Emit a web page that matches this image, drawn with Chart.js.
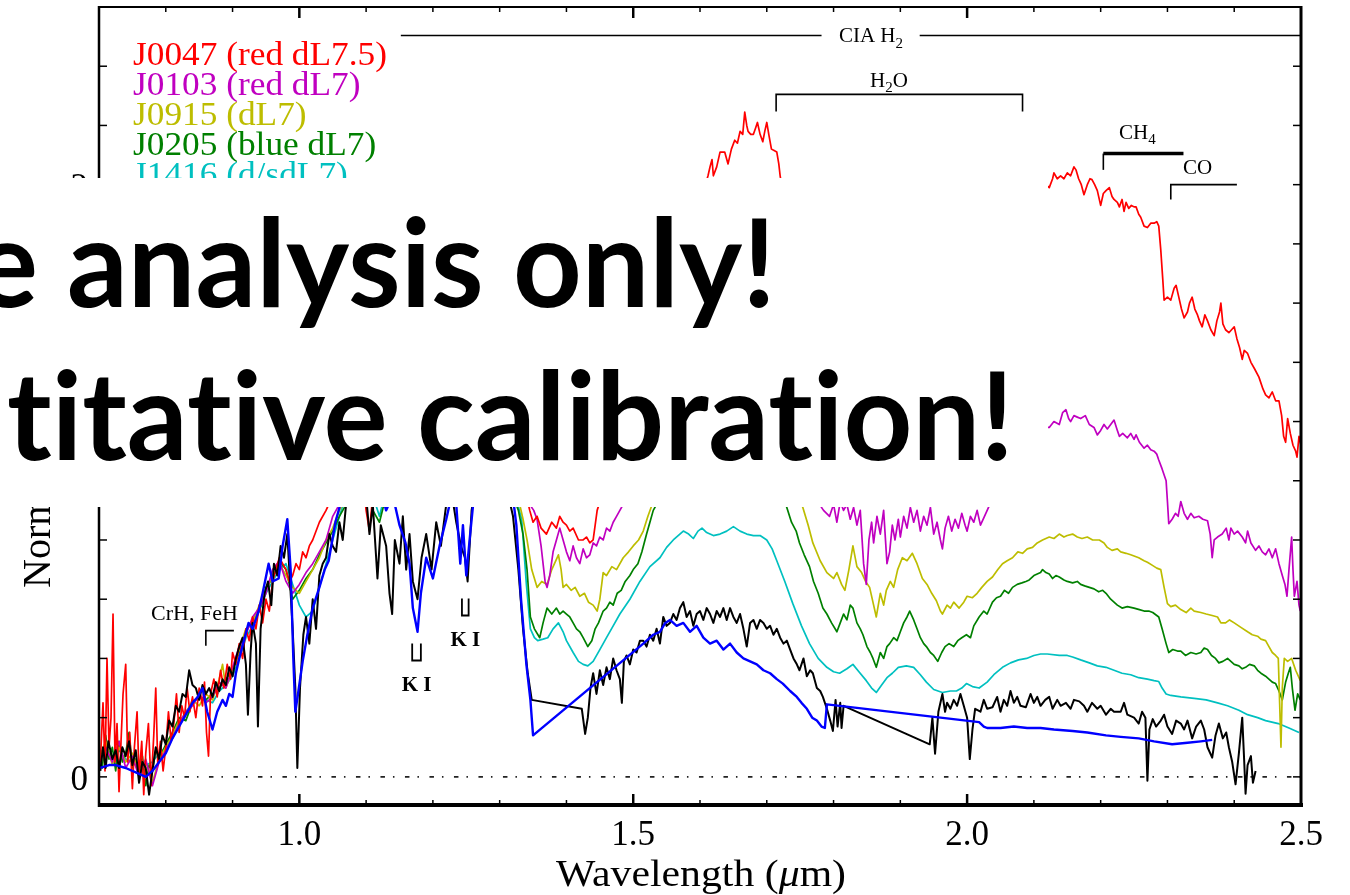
<!DOCTYPE html>
<html><head><meta charset="utf-8">
<script src="https://cdn.jsdelivr.net/npm/chart.js@4.4.1/dist/chart.umd.min.js"></script>
<style>html,body{margin:0;padding:0;background:#fff;}canvas{display:block;}</style>
</head><body>
<canvas id="c" width="1350" height="895"></canvas>
<script>
// ---------- DATA ----------
const legendLabels = ['J0047 (red dL7.5)','J0103 (red dL7)','J0915 (dL7)','J0205 (blue dL7)','J1416 (d/sdL7)'];
const xTickValues = [1.0, 1.5, 2.0, 2.5];
const xTickLabels = ['1.0', '1.5', '2.0', '2.5'];
const yTickValues = [0, 1, 2];
const yTickLabels = ['0', '1', '2'];
const zeroLine = [[0.81, 0], [2.5, 0]];

const j0047 = [[0.702,0.05],[0.706,0.25],[0.709,0.02],[0.712,0.40],[0.715,0.10],[0.718,0.20],[0.721,0.55],[0.724,0.05],[0.727,0.18],[0.73,-0.05],[0.733,0.12],[0.736,0.28],[0.74,0.38],[0.743,0.05],[0.746,0.15],[0.75,-0.04],[0.753,0.10],[0.757,0.22],[0.76,0.0],[0.764,0.12],[0.767,-0.06],[0.77,0.08],[0.774,0.18],[0.778,-0.03],[0.782,0.14],[0.785,0.30],[0.788,0.04],[0.792,0.12],[0.796,0.02],[0.80,0.10],[0.804,0.22],[0.808,0.12],[0.812,0.18],[0.816,0.28],[0.82,0.15],[0.824,0.24],[0.828,0.20],[0.832,0.30],[0.836,0.22],[0.84,0.27],[0.845,0.20],[0.85,0.30],[0.855,0.24],[0.858,0.32],[0.861,0.15],[0.864,0.07],[0.867,0.28],[0.872,0.33],[0.877,0.27],[0.882,0.36],[0.887,0.30],[0.892,0.38],[0.897,0.33],[0.90,0.42],[0.905,0.38],[0.91,0.45],[0.915,0.40],[0.92,0.50],[0.925,0.46],[0.93,0.54],[0.935,0.50],[0.94,0.58],[0.945,0.52],[0.95,0.60],[0.955,0.56],[0.96,0.66],[0.965,0.70],[0.97,0.74],[0.975,0.72],[0.98,0.70],[0.985,0.66],[0.99,0.68],[0.995,0.72],[1.0,0.70],[1.005,0.76],[1.01,0.74],[1.015,0.78],[1.02,0.80],[1.03,0.86],[1.04,0.90],[1.05,0.95],[1.07,1.05],[1.09,1.12],[1.10,0.90],[1.105,0.83],[1.11,0.95],[1.12,1.1],[1.15,1.15],[1.18,1.1],[1.21,1.18],[1.24,1.2],[1.27,1.22],[1.30,1.25],[1.32,1.15],[1.335,1.0],[1.345,0.90],[1.35,0.86],[1.356,0.88],[1.362,0.84],[1.37,0.82],[1.378,0.86],[1.385,0.84],[1.39,0.88],[1.395,0.86],[1.40,0.85],[1.405,0.83],[1.41,0.84],[1.418,0.80],[1.425,0.80],[1.43,0.81],[1.435,0.79],[1.44,0.80],[1.443,0.85],[1.446,0.90],[1.46,1.0],[1.50,1.3],[1.55,1.6],[1.58,1.8],[1.60,1.95],[1.608,2.0],[1.612,2.03],[1.615,2.06],[1.618,2.085],[1.62,2.03],[1.625,2.06],[1.63,2.11],[1.637,2.11],[1.642,2.07],[1.647,2.12],[1.652,2.15],[1.656,2.14],[1.66,2.18],[1.664,2.17],[1.667,2.245],[1.67,2.2],[1.672,2.18],[1.676,2.17],[1.68,2.17],[1.683,2.19],[1.686,2.21],[1.69,2.17],[1.694,2.145],[1.697,2.18],[1.70,2.21],[1.703,2.17],[1.707,2.12],[1.711,2.115],[1.715,2.11],[1.718,2.07],[1.72,2.03],[1.73,1.9],[1.76,1.6],[1.79,1.35],[1.82,1.2],[1.86,1.1],[1.90,1.15],[1.95,1.2],[2.0,1.45],[2.05,1.75],[2.09,1.92],[2.11,1.97],[2.118,2.0],[2.123,1.99],[2.128,2.02],[2.13,2.04],[2.135,2.02],[2.14,2.03],[2.145,2.02],[2.15,2.04],[2.155,2.03],[2.16,2.06],[2.163,2.05],[2.167,2.02],[2.171,2.0],[2.175,1.966],[2.18,2.0],[2.184,2.02],[2.187,2.017],[2.191,2.0],[2.195,1.98],[2.2,1.93],[2.204,1.97],[2.208,1.98],[2.213,1.99],[2.217,1.96],[2.22,1.95],[2.225,1.94],[2.228,1.925],[2.232,1.95],[2.235,1.91],[2.238,1.94],[2.242,1.92],[2.246,1.93],[2.25,1.925],[2.253,1.925],[2.257,1.90],[2.26,1.89],[2.265,1.86],[2.27,1.855],[2.275,1.87],[2.28,1.87],[2.284,1.875],[2.287,1.86],[2.29,1.78],[2.293,1.68],[2.295,1.61],[2.3,1.62],[2.305,1.61],[2.31,1.65],[2.313,1.66],[2.317,1.62],[2.321,1.58],[2.325,1.55],[2.33,1.57],[2.333,1.60],[2.337,1.62],[2.341,1.58],[2.345,1.56],[2.348,1.54],[2.352,1.52],[2.356,1.56],[2.36,1.54],[2.365,1.51],[2.37,1.49],[2.374,1.54],[2.378,1.57],[2.38,1.60],[2.383,1.53],[2.387,1.51],[2.392,1.50],[2.396,1.51],[2.40,1.52],[2.404,1.48],[2.408,1.45],[2.412,1.41],[2.415,1.44],[2.42,1.43],[2.425,1.40],[2.43,1.38],[2.437,1.35],[2.443,1.31],[2.447,1.29],[2.452,1.28],[2.457,1.30],[2.462,1.27],[2.467,1.27],[2.471,1.22],[2.474,1.15],[2.477,1.13],[2.48,1.21],[2.484,1.16],[2.488,1.12],[2.492,1.10],[2.494,1.08],[2.497,1.15],[2.5,1.12]];

const j0103 = [[0.70,0.04],[0.71,0.10],[0.72,0.05],[0.73,0.12],[0.74,0.03],[0.75,0.07],[0.76,0.0],[0.77,0.06],[0.78,-0.03],[0.79,0.05],[0.80,0.09],[0.81,0.13],[0.82,0.18],[0.83,0.22],[0.84,0.24],[0.85,0.28],[0.86,0.25],[0.87,0.27],[0.88,0.32],[0.89,0.30],[0.90,0.37],[0.91,0.44],[0.92,0.48],[0.93,0.54],[0.94,0.57],[0.95,0.62],[0.96,0.70],[0.97,0.73],[0.98,0.66],[0.99,0.62],[1.00,0.65],[1.01,0.69],[1.02,0.72],[1.03,0.76],[1.04,0.80],[1.045,0.84],[1.05,0.88],[1.06,0.92],[1.08,1.0],[1.10,1.04],[1.12,0.97],[1.15,1.02],[1.18,0.98],[1.21,1.04],[1.24,1.06],[1.27,1.03],[1.30,1.07],[1.32,1.02],[1.335,0.96],[1.345,0.92],[1.351,0.90],[1.356,0.87],[1.362,0.78],[1.368,0.66],[1.371,0.64],[1.375,0.68],[1.38,0.76],[1.385,0.80],[1.39,0.84],[1.395,0.80],[1.40,0.76],[1.405,0.73],[1.41,0.78],[1.415,0.74],[1.42,0.72],[1.425,0.77],[1.43,0.74],[1.435,0.75],[1.44,0.79],[1.445,0.78],[1.45,0.81],[1.455,0.80],[1.46,0.84],[1.465,0.83],[1.47,0.86],[1.475,0.88],[1.48,0.90],[1.50,0.98],[1.53,1.1],[1.56,1.2],[1.60,1.28],[1.64,1.32],[1.68,1.33],[1.71,1.30],[1.73,1.2],[1.75,1.05],[1.77,0.95],[1.785,0.90],[1.794,0.88],[1.80,0.92],[1.805,0.86],[1.81,0.93],[1.815,0.90],[1.82,0.92],[1.825,0.87],[1.83,0.91],[1.835,0.85],[1.84,0.90],[1.845,0.72],[1.849,0.65],[1.853,0.80],[1.857,0.86],[1.86,0.79],[1.865,0.88],[1.87,0.82],[1.875,0.90],[1.88,0.72],[1.884,0.76],[1.888,0.85],[1.892,0.80],[1.897,0.87],[1.90,0.81],[1.905,0.88],[1.91,0.84],[1.915,0.91],[1.92,0.86],[1.925,0.90],[1.93,0.83],[1.935,0.88],[1.94,0.85],[1.945,0.91],[1.95,0.82],[1.955,0.86],[1.96,0.80],[1.963,0.77],[1.967,0.84],[1.972,0.88],[1.977,0.83],[1.982,0.87],[1.987,0.84],[1.992,0.89],[1.997,0.85],[2.0,0.83],[2.005,0.88],[2.01,0.86],[2.015,0.90],[2.02,0.85],[2.026,0.88],[2.04,0.95],[2.06,1.05],[2.08,1.12],[2.10,1.16],[2.115,1.18],[2.123,1.18],[2.13,1.20],[2.138,1.19],[2.143,1.23],[2.148,1.24],[2.152,1.21],[2.155,1.20],[2.16,1.22],[2.165,1.215],[2.17,1.21],[2.177,1.22],[2.183,1.19],[2.19,1.18],[2.195,1.155],[2.2,1.17],[2.205,1.19],[2.21,1.175],[2.215,1.19],[2.22,1.205],[2.225,1.17],[2.228,1.15],[2.233,1.16],[2.24,1.145],[2.245,1.16],[2.25,1.14],[2.253,1.155],[2.258,1.13],[2.265,1.11],[2.27,1.12],[2.275,1.105],[2.28,1.10],[2.284,1.09],[2.287,1.07],[2.292,1.04],[2.298,1.0],[2.3,0.93],[2.302,0.855],[2.307,0.87],[2.312,0.89],[2.316,0.88],[2.32,0.93],[2.325,0.89],[2.33,0.87],[2.335,0.89],[2.34,0.875],[2.347,0.88],[2.353,0.87],[2.36,0.865],[2.364,0.82],[2.367,0.74],[2.37,0.80],[2.375,0.81],[2.382,0.82],[2.388,0.84],[2.392,0.80],[2.395,0.84],[2.40,0.82],[2.405,0.83],[2.412,0.81],[2.417,0.79],[2.42,0.83],[2.425,0.79],[2.432,0.765],[2.437,0.78],[2.442,0.76],[2.447,0.75],[2.452,0.77],[2.457,0.74],[2.462,0.77],[2.467,0.72],[2.472,0.68],[2.476,0.65],[2.479,0.61],[2.482,0.70],[2.486,0.81],[2.488,0.70],[2.49,0.61],[2.494,0.66],[2.497,0.58],[2.499,0.56]];

const j0915 = [[0.70,0.06],[0.71,0.12],[0.72,0.04],[0.73,0.10],[0.74,0.05],[0.75,0.08],[0.76,0.02],[0.77,0.05],[0.78,-0.02],[0.79,0.06],[0.80,0.10],[0.81,0.14],[0.82,0.19],[0.83,0.21],[0.84,0.26],[0.85,0.24],[0.86,0.28],[0.87,0.26],[0.88,0.33],[0.885,0.38],[0.89,0.30],[0.90,0.36],[0.91,0.43],[0.92,0.50],[0.93,0.52],[0.94,0.58],[0.95,0.63],[0.96,0.68],[0.97,0.72],[0.98,0.68],[0.99,0.64],[1.00,0.62],[1.01,0.66],[1.02,0.70],[1.03,0.74],[1.04,0.80],[1.05,0.84],[1.06,0.90],[1.08,0.98],[1.10,1.02],[1.12,0.95],[1.14,1.0],[1.17,0.96],[1.20,1.02],[1.23,1.05],[1.26,1.03],[1.29,1.06],[1.31,1.02],[1.32,0.98],[1.327,0.95],[1.335,0.87],[1.341,0.80],[1.348,0.70],[1.356,0.64],[1.363,0.66],[1.371,0.65],[1.378,0.70],[1.388,0.75],[1.392,0.70],[1.395,0.64],[1.40,0.65],[1.407,0.63],[1.413,0.64],[1.42,0.61],[1.427,0.62],[1.433,0.59],[1.44,0.58],[1.446,0.56],[1.45,0.60],[1.455,0.69],[1.46,0.68],[1.468,0.71],[1.475,0.70],[1.485,0.74],[1.493,0.76],[1.50,0.78],[1.508,0.80],[1.515,0.83],[1.522,0.88],[1.53,0.93],[1.55,1.0],[1.60,1.08],[1.65,1.12],[1.70,1.10],[1.73,1.02],[1.754,0.91],[1.762,0.85],[1.769,0.79],[1.78,0.73],[1.79,0.69],[1.80,0.67],[1.805,0.69],[1.812,0.65],[1.817,0.63],[1.823,0.70],[1.829,0.78],[1.835,0.71],[1.842,0.69],[1.848,0.66],[1.854,0.64],[1.86,0.58],[1.864,0.54],[1.87,0.62],[1.875,0.58],[1.879,0.63],[1.885,0.66],[1.89,0.64],[1.896,0.70],[1.903,0.74],[1.91,0.73],[1.918,0.755],[1.925,0.72],[1.933,0.67],[1.94,0.65],[1.947,0.62],[1.954,0.595],[1.96,0.56],[1.963,0.55],[1.97,0.58],[1.975,0.57],[1.98,0.59],[1.988,0.57],[1.995,0.59],[2.0,0.61],[2.008,0.605],[2.015,0.62],[2.022,0.64],[2.03,0.66],[2.038,0.675],[2.046,0.70],[2.053,0.72],[2.06,0.73],[2.068,0.74],[2.076,0.76],[2.083,0.755],[2.09,0.77],[2.098,0.775],[2.105,0.79],[2.113,0.80],[2.123,0.81],[2.13,0.805],[2.138,0.82],[2.145,0.81],[2.15,0.815],[2.158,0.82],[2.165,0.81],[2.172,0.805],[2.18,0.81],[2.188,0.80],[2.198,0.80],[2.205,0.79],[2.21,0.775],[2.217,0.765],[2.225,0.77],[2.23,0.76],[2.238,0.755],[2.245,0.75],[2.257,0.74],[2.265,0.73],[2.27,0.725],[2.277,0.715],[2.284,0.705],[2.29,0.70],[2.295,0.64],[2.30,0.585],[2.305,0.575],[2.312,0.58],[2.32,0.565],[2.328,0.555],[2.335,0.57],[2.34,0.56],[2.35,0.555],[2.358,0.55],[2.367,0.545],[2.375,0.54],[2.38,0.52],[2.387,0.52],[2.393,0.53],[2.40,0.52],[2.41,0.505],[2.42,0.49],[2.427,0.48],[2.435,0.475],[2.44,0.465],[2.447,0.46],[2.452,0.44],[2.457,0.42],[2.462,0.41],[2.466,0.40],[2.468,0.25],[2.47,0.10],[2.472,0.30],[2.475,0.40],[2.48,0.39],[2.486,0.40],[2.492,0.36],[2.499,0.325]];

const j0205 = [[0.70,0.09],[0.705,0.03],[0.71,0.14],[0.715,0.06],[0.72,0.10],[0.725,0.02],[0.73,0.12],[0.735,0.05],[0.74,0.08],[0.745,0.15],[0.75,0.03],[0.755,0.06],[0.76,0.0],[0.765,0.07],[0.77,-0.03],[0.775,0.04],[0.78,0.02],[0.785,0.09],[0.79,0.06],[0.80,0.11],[0.81,0.15],[0.82,0.20],[0.83,0.19],[0.84,0.25],[0.85,0.27],[0.86,0.26],[0.87,0.28],[0.88,0.30],[0.89,0.33],[0.90,0.36],[0.91,0.42],[0.92,0.49],[0.93,0.53],[0.94,0.56],[0.95,0.64],[0.96,0.67],[0.97,0.73],[0.98,0.70],[0.99,0.60],[1.00,0.63],[1.01,0.67],[1.02,0.70],[1.03,0.75],[1.04,0.79],[1.05,0.83],[1.06,0.88],[1.08,0.96],[1.10,1.0],[1.11,0.90],[1.12,0.86],[1.13,0.95],[1.15,1.0],[1.17,0.93],[1.20,1.0],[1.23,1.04],[1.26,1.02],[1.29,1.05],[1.31,1.0],[1.32,0.95],[1.328,0.90],[1.335,0.82],[1.341,0.70],[1.346,0.54],[1.352,0.50],[1.36,0.47],[1.365,0.52],[1.371,0.57],[1.378,0.55],[1.385,0.57],[1.39,0.55],[1.395,0.56],[1.40,0.55],[1.405,0.54],[1.41,0.52],[1.415,0.50],[1.42,0.49],[1.425,0.47],[1.432,0.44],[1.438,0.46],[1.443,0.50],[1.448,0.52],[1.455,0.56],[1.46,0.57],[1.465,0.59],[1.47,0.58],[1.476,0.62],[1.482,0.63],[1.488,0.66],[1.495,0.68],[1.50,0.70],[1.507,0.72],[1.513,0.76],[1.52,0.82],[1.525,0.86],[1.53,0.9],[1.55,0.98],[1.60,1.05],[1.65,1.08],[1.70,1.05],[1.72,0.96],[1.73,0.91],[1.737,0.86],[1.744,0.83],[1.749,0.79],[1.756,0.75],[1.764,0.71],[1.77,0.66],[1.777,0.62],[1.784,0.57],[1.79,0.55],[1.797,0.52],[1.805,0.49],[1.81,0.52],[1.815,0.55],[1.82,0.53],[1.825,0.58],[1.829,0.57],[1.835,0.52],[1.84,0.50],[1.844,0.48],[1.85,0.44],[1.855,0.42],[1.859,0.40],[1.864,0.37],[1.87,0.42],[1.875,0.40],[1.88,0.44],[1.884,0.45],[1.89,0.47],[1.895,0.46],[1.90,0.49],[1.905,0.52],[1.91,0.54],[1.914,0.56],[1.92,0.53],[1.925,0.50],[1.93,0.47],[1.935,0.45],[1.939,0.44],[1.945,0.42],[1.95,0.41],[1.956,0.39],[1.962,0.42],[1.967,0.44],[1.973,0.45],[1.98,0.44],[1.986,0.46],[1.992,0.47],[1.999,0.48],[2.005,0.47],[2.01,0.51],[2.018,0.54],[2.025,0.56],[2.03,0.55],[2.038,0.59],[2.044,0.605],[2.05,0.61],[2.056,0.63],[2.062,0.62],[2.068,0.64],[2.075,0.65],[2.082,0.655],[2.088,0.66],[2.093,0.665],[2.10,0.68],[2.105,0.685],[2.11,0.69],[2.113,0.70],[2.118,0.69],[2.123,0.685],[2.128,0.67],[2.133,0.68],[2.138,0.675],[2.145,0.665],[2.15,0.66],[2.158,0.655],[2.165,0.66],[2.17,0.65],[2.176,0.645],[2.183,0.64],[2.19,0.635],[2.197,0.625],[2.203,0.63],[2.208,0.62],[2.215,0.60],[2.22,0.59],[2.225,0.58],[2.232,0.57],[2.24,0.575],[2.25,0.57],[2.258,0.565],[2.265,0.56],[2.272,0.56],[2.278,0.555],[2.284,0.545],[2.287,0.54],[2.292,0.50],[2.298,0.45],[2.302,0.42],[2.308,0.43],[2.315,0.425],[2.32,0.425],[2.327,0.41],[2.335,0.42],[2.343,0.415],[2.35,0.42],[2.355,0.435],[2.36,0.43],[2.366,0.41],[2.372,0.40],[2.377,0.385],[2.383,0.39],[2.39,0.40],[2.395,0.39],[2.40,0.38],[2.407,0.375],[2.412,0.365],[2.417,0.37],[2.423,0.38],[2.43,0.375],[2.435,0.36],[2.44,0.35],[2.447,0.34],[2.452,0.33],[2.457,0.32],[2.462,0.315],[2.467,0.29],[2.472,0.26],[2.477,0.32],[2.481,0.35],[2.484,0.37],[2.487,0.30],[2.491,0.225],[2.495,0.28],[2.499,0.26]];

const j1416 = [[0.70,0.08],[0.71,0.10],[0.72,0.07],[0.73,0.09],[0.74,0.06],[0.75,0.05],[0.76,0.03],[0.77,0.04],[0.78,0.05],[0.79,0.08],[0.80,0.10],[0.81,0.14],[0.82,0.18],[0.83,0.22],[0.84,0.25],[0.85,0.27],[0.86,0.26],[0.87,0.25],[0.88,0.29],[0.89,0.31],[0.90,0.34],[0.91,0.40],[0.92,0.47],[0.93,0.51],[0.94,0.56],[0.95,0.62],[0.96,0.66],[0.97,0.70],[0.98,0.72],[0.99,0.65],[1.00,0.58],[1.01,0.54],[1.02,0.56],[1.03,0.64],[1.04,0.72],[1.05,0.80],[1.06,0.88],[1.07,0.95],[1.09,1.02],[1.11,0.95],[1.12,0.88],[1.13,0.97],[1.15,1.0],[1.17,0.95],[1.19,1.02],[1.21,1.05],[1.23,1.03],[1.25,1.0],[1.27,1.05],[1.29,1.08],[1.31,1.05],[1.32,1.0],[1.327,0.92],[1.333,0.87],[1.34,0.65],[1.346,0.50],[1.352,0.47],[1.357,0.46],[1.365,0.465],[1.372,0.47],[1.38,0.50],[1.388,0.52],[1.395,0.49],[1.40,0.46],[1.41,0.42],[1.418,0.39],[1.425,0.38],[1.432,0.375],[1.44,0.39],[1.45,0.43],[1.46,0.47],[1.47,0.51],[1.48,0.55],[1.495,0.60],[1.51,0.66],[1.525,0.71],[1.54,0.74],[1.55,0.775],[1.56,0.80],[1.575,0.83],[1.583,0.82],[1.59,0.805],[1.597,0.83],[1.603,0.84],[1.61,0.825],[1.62,0.815],[1.63,0.82],[1.64,0.83],[1.65,0.845],[1.66,0.83],[1.67,0.82],[1.68,0.815],[1.69,0.815],[1.70,0.80],[1.708,0.77],[1.715,0.73],[1.727,0.66],[1.739,0.585],[1.752,0.51],[1.764,0.45],[1.777,0.40],[1.79,0.37],[1.80,0.355],[1.809,0.35],[1.82,0.365],[1.829,0.38],[1.838,0.355],[1.849,0.325],[1.857,0.30],[1.864,0.285],[1.872,0.31],[1.88,0.335],[1.888,0.35],[1.897,0.37],[1.909,0.375],[1.92,0.37],[1.93,0.345],[1.939,0.32],[1.95,0.295],[1.963,0.285],[1.975,0.29],[1.984,0.29],[1.992,0.30],[1.999,0.315],[2.008,0.305],[2.018,0.30],[2.03,0.32],[2.04,0.345],[2.053,0.37],[2.065,0.385],[2.077,0.395],[2.089,0.40],[2.10,0.41],[2.11,0.415],[2.12,0.415],[2.138,0.41],[2.15,0.41],[2.158,0.405],[2.17,0.395],[2.183,0.385],[2.195,0.375],[2.208,0.37],[2.22,0.36],[2.232,0.35],[2.245,0.345],[2.257,0.335],[2.27,0.33],[2.28,0.325],[2.287,0.322],[2.292,0.30],[2.298,0.28],[2.305,0.275],[2.32,0.27],[2.34,0.265],[2.358,0.26],[2.375,0.25],[2.39,0.24],[2.407,0.225],[2.42,0.21],[2.435,0.20],[2.447,0.19],[2.466,0.18],[2.482,0.165],[2.497,0.15]];

const blackSpec = [[0.702,0.02],[0.706,0.10],[0.71,0.03],[0.714,0.12],[0.72,0.06],[0.725,0.09],[0.73,0.03],[0.735,0.10],[0.74,0.07],[0.745,0.12],[0.75,0.04],[0.755,0.09],[0.76,-0.02],[0.765,0.05],[0.77,0.03],[0.775,-0.06],[0.78,0.02],[0.785,0.10],[0.79,0.06],[0.795,0.14],[0.80,0.11],[0.805,0.19],[0.81,0.17],[0.815,0.24],[0.82,0.22],[0.825,0.28],[0.83,0.27],[0.835,0.36],[0.84,0.31],[0.845,0.30],[0.85,0.26],[0.855,0.31],[0.86,0.28],[0.865,0.30],[0.87,0.27],[0.875,0.32],[0.88,0.29],[0.885,0.33],[0.89,0.31],[0.895,0.37],[0.90,0.34],[0.905,0.40],[0.91,0.44],[0.915,0.47],[0.92,0.38],[0.923,0.21],[0.927,0.42],[0.93,0.52],[0.935,0.45],[0.938,0.17],[0.942,0.50],[0.948,0.62],[0.953,0.66],[0.958,0.58],[0.962,0.72],[0.967,0.68],[0.972,0.78],[0.977,0.74],[0.982,0.82],[0.986,0.66],[0.99,0.50],[0.994,0.30],[0.997,0.03],[1.001,0.30],[1.006,0.48],[1.01,0.54],[1.015,0.45],[1.02,0.60],[1.025,0.50],[1.03,0.68],[1.035,0.72],[1.04,0.74],[1.045,0.82],[1.05,0.78],[1.055,0.76],[1.06,0.86],[1.065,0.80],[1.07,0.92],[1.08,0.98],[1.09,1.02],[1.10,0.95],[1.105,0.82],[1.11,0.92],[1.117,0.67],[1.122,0.85],[1.13,0.78],[1.135,0.62],[1.139,0.55],[1.143,0.80],[1.15,0.72],[1.155,0.88],[1.16,0.70],[1.165,0.82],[1.17,0.66],[1.177,0.60],[1.183,0.74],[1.19,0.82],[1.198,0.70],[1.205,0.86],[1.212,0.78],[1.22,0.92],[1.228,0.96],[1.235,0.86],[1.242,0.78],[1.248,0.74],[1.252,0.66],[1.258,0.90],[1.265,1.0],[1.28,1.05],[1.295,1.02],[1.31,0.98],[1.32,0.88],[1.328,0.70],[1.335,0.50],[1.342,0.35],[1.348,0.26],[1.423,0.23],[1.428,0.145],[1.432,0.20],[1.436,0.30],[1.44,0.35],[1.445,0.28],[1.45,0.36],[1.455,0.31],[1.46,0.37],[1.465,0.33],[1.47,0.40],[1.475,0.36],[1.48,0.33],[1.483,0.25],[1.486,0.39],[1.49,0.41],[1.495,0.38],[1.50,0.43],[1.505,0.42],[1.51,0.46],[1.515,0.46],[1.52,0.44],[1.525,0.48],[1.53,0.46],[1.535,0.50],[1.54,0.45],[1.545,0.54],[1.55,0.51],[1.555,0.52],[1.56,0.55],[1.565,0.53],[1.57,0.57],[1.575,0.59],[1.58,0.54],[1.585,0.56],[1.59,0.51],[1.595,0.55],[1.60,0.56],[1.605,0.53],[1.61,0.57],[1.615,0.55],[1.62,0.52],[1.625,0.56],[1.63,0.54],[1.635,0.57],[1.64,0.53],[1.645,0.57],[1.65,0.54],[1.655,0.52],[1.66,0.55],[1.665,0.50],[1.67,0.44],[1.675,0.52],[1.68,0.53],[1.685,0.50],[1.69,0.53],[1.695,0.52],[1.70,0.50],[1.705,0.51],[1.71,0.48],[1.715,0.50],[1.72,0.47],[1.725,0.45],[1.73,0.46],[1.735,0.43],[1.74,0.40],[1.745,0.38],[1.749,0.36],[1.755,0.40],[1.76,0.34],[1.765,0.36],[1.769,0.35],[1.775,0.30],[1.78,0.29],[1.784,0.27],[1.79,0.23],[1.795,0.19],[1.799,0.155],[1.803,0.26],[1.806,0.17],[1.81,0.25],[1.812,0.165],[1.815,0.24],[1.944,0.11],[1.948,0.20],[1.952,0.078],[1.957,0.22],[1.963,0.28],[1.967,0.22],[1.97,0.25],[1.975,0.23],[1.98,0.26],[1.985,0.24],[1.99,0.28],[1.995,0.24],[2.0,0.20],[2.004,0.06],[2.008,0.16],[2.012,0.23],[2.02,0.22],[2.025,0.26],[2.03,0.23],[2.038,0.235],[2.045,0.27],[2.05,0.22],[2.055,0.26],[2.06,0.24],[2.065,0.29],[2.07,0.25],[2.075,0.27],[2.08,0.24],[2.088,0.235],[2.095,0.28],[2.10,0.25],[2.105,0.27],[2.11,0.24],[2.117,0.26],[2.123,0.27],[2.128,0.23],[2.135,0.26],[2.14,0.24],[2.148,0.25],[2.155,0.23],[2.16,0.26],[2.168,0.255],[2.175,0.24],[2.18,0.22],[2.187,0.25],[2.195,0.23],[2.2,0.24],[2.208,0.21],[2.215,0.23],[2.22,0.22],[2.23,0.22],[2.235,0.25],[2.24,0.21],[2.25,0.20],[2.257,0.18],[2.262,0.22],[2.267,0.20],[2.27,-0.013],[2.273,0.16],[2.278,0.195],[2.283,0.17],[2.29,0.19],[2.295,0.21],[2.30,0.17],[2.307,0.145],[2.313,0.19],[2.32,0.18],[2.325,0.16],[2.33,0.19],[2.337,0.13],[2.343,0.17],[2.35,0.19],[2.355,0.16],[2.36,0.10],[2.367,0.065],[2.372,0.14],[2.377,0.18],[2.383,0.13],[2.388,0.15],[2.392,0.10],[2.397,0.05],[2.402,-0.025],[2.407,0.08],[2.412,0.20],[2.415,0.05],[2.417,-0.057],[2.42,0.04],[2.425,0.07],[2.428,-0.02],[2.432,0.02]];

const blueSpec = [[0.702,0.03],[0.715,0.04],[0.725,0.04],[0.74,0.03],[0.755,0.015],[0.77,0.0],[0.78,0.02],[0.79,0.05],[0.80,0.08],[0.81,0.13],[0.82,0.17],[0.83,0.21],[0.84,0.25],[0.848,0.27],[0.855,0.30],[0.862,0.22],[0.87,0.16],[0.877,0.22],[0.885,0.26],[0.89,0.24],[0.895,0.28],[0.90,0.27],[0.905,0.35],[0.91,0.40],[0.917,0.46],[0.924,0.52],[0.93,0.50],[0.939,0.56],[0.945,0.62],[0.954,0.72],[0.96,0.66],[0.969,0.67],[0.975,0.78],[0.982,0.87],[0.987,0.70],[0.991,0.40],[0.994,0.22],[0.998,0.28],[1.005,0.39],[1.012,0.48],[1.02,0.57],[1.03,0.64],[1.038,0.70],[1.044,0.73],[1.054,0.86],[1.065,0.95],[1.08,1.02],[1.10,1.05],[1.12,0.98],[1.13,0.90],[1.14,0.95],[1.15,0.85],[1.159,0.79],[1.165,0.72],[1.17,0.57],[1.177,0.49],[1.182,0.62],[1.19,0.74],[1.20,0.67],[1.21,0.78],[1.22,0.87],[1.228,0.95],[1.235,0.92],[1.241,0.72],[1.245,0.85],[1.25,0.68],[1.255,0.80],[1.262,0.96],[1.275,1.02],[1.29,1.06],[1.305,1.04],[1.318,0.98],[1.325,0.85],[1.332,0.60],[1.34,0.38],[1.346,0.26],[1.35,0.14],[1.515,0.45],[1.52,0.46],[1.53,0.48],[1.54,0.49],[1.548,0.52],[1.555,0.53],[1.565,0.51],[1.575,0.52],[1.585,0.49],[1.595,0.51],[1.605,0.47],[1.615,0.45],[1.625,0.46],[1.635,0.43],[1.645,0.45],[1.655,0.42],[1.665,0.40],[1.675,0.39],[1.685,0.38],[1.695,0.36],[1.705,0.35],[1.715,0.33],[1.724,0.315],[1.735,0.29],[1.745,0.27],[1.752,0.25],[1.76,0.23],[1.768,0.20],[1.775,0.19],[1.782,0.17],[1.787,0.165],[1.79,0.245],[2.018,0.185],[2.025,0.17],[2.03,0.165],[2.05,0.165],[2.07,0.17],[2.09,0.165],[2.11,0.165],[2.13,0.16],[2.158,0.155],[2.18,0.15],[2.208,0.14],[2.23,0.135],[2.257,0.13],[2.28,0.12],[2.307,0.11],[2.33,0.115],[2.35,0.12],[2.367,0.125]];

// feature markers (wavelength, level)
const ciaH2 = {from:1.152, gapFrom:1.782, gapTo:1.929, to:2.5, level:2.504, labelAt:1.856};
const h2oBand = {from:1.714, to:2.083, level:2.305, foot:2.247, labelAt:1.883, labelLevel:2.33};
const ch4Band = {from:2.204, to:2.324, level:2.105, foot:2.05, labelAt:2.255, labelLevel:2.155};
const coBand = {from:2.305, to:2.404, level:2.0, foot:1.95, labelAt:2.345, labelLevel:2.035};
const crhFeh = {from:0.860, to:0.902, level:0.494, foot:0.443, labelAt:0.843, labelLevel:0.53};
const kLines = [{a:1.169, b:1.182, top:0.45, bottom:0.393, labelLevel:0.29},{a:1.2435, b:1.2535, top:0.602, bottom:0.545, labelLevel:0.443}];

// ---------- CHART ----------
const toXY = arr => arr.map(p => ({x:p[0], y:p[1]}));
const SERIF = '"Liberation Serif", "Times New Roman", serif';

function mk(label, arr, color, width, order, dash){
  return {label, data: toXY(arr), borderColor: color, backgroundColor: color, borderWidth: width,
    pointRadius: 0, tension: 0, fill: false, order, borderDash: dash || [], borderJoinStyle:'round'};
}

const datasets = [
  mk('J0047 (red dL7.5)', j0047, '#ff0000', 1.7, 2),
  mk('J0103 (red dL7)', j0103, '#c000c0', 1.7, 3),
  mk('J0915 (dL7)', j0915, '#bdbd00', 1.7, 4),
  mk('J0205 (blue dL7)', j0205, '#008000', 1.7, 5),
  mk('J1416 (d/sdL7)', j1416, '#00c0c0', 1.7, 6),
  mk('black', blackSpec, '#000000', 2.0, 1),
  mk('blue', blueSpec, '#0000ff', 2.4, 0),
  mk('zero', zeroLine, '#222222', 1.6, 7, [1.5, 10.5, 4.5, 8])
];

// draws a run of [text, isSubscript] parts
function drawRuns(c, runs, x, y, size, align){
  const big = size + 'px ' + SERIF, small = Math.round(size*0.7) + 'px ' + SERIF;
  let tot = 0;
  runs.forEach(r => { c.font = r[1] ? small : big; tot += c.measureText(r[0]).width; });
  let x0 = align === 'center' ? x - tot/2 : x;
  c.textAlign = 'left';
  runs.forEach(r => {
    c.font = r[1] ? small : big;
    c.fillText(r[0], x0, r[1] ? y + size*0.25 : y);
    x0 += c.measureText(r[0]).width;
  });
}

const decor = {
  id: 'decor',
  beforeDraw(chart){
    const c = chart.ctx; c.save(); c.fillStyle = '#fff'; c.fillRect(0,0,chart.width,chart.height); c.restore();
  },
  afterDraw(chart){
    const c = chart.ctx, xs = chart.scales.x, ys = chart.scales.y, a = chart.chartArea;
    const px = v => xs.getPixelForValue(v), py = v => ys.getPixelForValue(v);
    c.save();
    c.strokeStyle = '#000'; c.fillStyle = '#000'; c.lineCap = 'butt';
    const seg = (x1,y1,x2,y2,w) => { c.lineWidth = w; c.beginPath(); c.moveTo(x1,y1); c.lineTo(x2,y2); c.stroke(); };
    // frame
    seg(a.left, a.top-1, a.left, a.bottom+2, 2.5);
    seg(a.left-1, a.bottom, a.right+2, a.bottom, 4);
    seg(a.right, a.top-1, a.right, a.bottom+2, 3);
    seg(a.left-1, a.top, a.right+1, a.top, 2);
    // x ticks (inward)
    for (let i = 8; i <= 24; i++){
      const v = i/10, x = px(v), major = (i % 5 === 0);
      const L = major ? 11 : 5, w = major ? 2.5 : 1.5;
      seg(x, a.bottom, x, a.bottom - L, w);
      seg(x, a.top, x, a.top + L, w);
    }
    // y ticks (inward)
    for (let i = 0; i <= 12; i++){
      const y = py(i*0.2);
      seg(a.left, y, a.left + 8, y, 1.5);
      seg(a.right, y, a.right - 8, y, 1.5);
    }
    // tick labels
    c.font = '35px ' + SERIF; c.textAlign = 'center'; c.textBaseline = 'alphabetic';
    xTickValues.forEach((v,i) => c.fillText(xTickLabels[i], px(v), 845));
    c.textAlign = 'right';
    yTickValues.forEach((v,i) => c.fillText(yTickLabels[i], 88, py(v) + 13));
    // axis title x
    {
      const parts = [['Wavelength (', ''], ['\u03bc', 'italic '], ['m)', '']];
      const size = 37;
      let tot = 0;
      parts.forEach(p => { c.font = p[1] + size + 'px ' + SERIF; tot += c.measureText(p[0]).width; });
      const target = 290, sx = target / tot;
      c.save(); c.translate(701 - target/2, 886); c.scale(sx, 1); c.textAlign = 'left';
      let x = 0;
      parts.forEach(p => { c.font = p[1] + size + 'px ' + SERIF; c.fillText(p[0], x, 0); x += c.measureText(p[0]).width; });
      c.restore();
    }
    // axis title y
    c.save(); c.translate(50, 588); c.rotate(-Math.PI/2); c.textAlign = 'left';
    c.font = '40px ' + SERIF; c.fillText('Normalized Flux', 0, 0); c.restore();

    // feature annotations
    seg(px(ciaH2.from), py(ciaH2.level), px(ciaH2.gapFrom), py(ciaH2.level), 1.5);
    seg(px(ciaH2.gapTo), py(ciaH2.level), px(ciaH2.to), py(ciaH2.level), 1.5);
    drawRuns(c, [['CIA H', false], ['2', true]], px(ciaH2.labelAt), py(ciaH2.level) + 7, 21, 'center');
    // H2O
    c.lineWidth = 1.6; c.beginPath();
    c.moveTo(px(h2oBand.from), py(h2oBand.foot)); c.lineTo(px(h2oBand.from), py(h2oBand.level));
    c.lineTo(px(h2oBand.to), py(h2oBand.level)); c.lineTo(px(h2oBand.to), py(h2oBand.foot)); c.stroke();
    drawRuns(c, [['H', false], ['2', true], ['O', false]], px(h2oBand.labelAt), py(h2oBand.labelLevel), 21, 'center');
    // CH4
    seg(px(ch4Band.from), py(ch4Band.level), px(ch4Band.to), py(ch4Band.level), 3.5);
    seg(px(ch4Band.from), py(ch4Band.level), px(ch4Band.from), py(ch4Band.foot), 1.6);
    drawRuns(c, [['CH', false], ['4', true]], px(ch4Band.labelAt), py(ch4Band.labelLevel), 21, 'center');
    // CO
    c.lineWidth = 1.6; c.beginPath();
    c.moveTo(px(coBand.from), py(coBand.foot)); c.lineTo(px(coBand.from), py(coBand.level)); c.lineTo(px(coBand.to), py(coBand.level)); c.stroke();
    c.font = '21px ' + SERIF; c.textAlign = 'center'; c.fillText('CO', px(coBand.labelAt), py(coBand.labelLevel));
    // CrH, FeH
    c.lineWidth = 1.6; c.beginPath();
    c.moveTo(px(crhFeh.from), py(crhFeh.foot)); c.lineTo(px(crhFeh.from), py(crhFeh.level)); c.lineTo(px(crhFeh.to), py(crhFeh.level)); c.stroke();
    c.font = '22px ' + SERIF; c.textAlign = 'center'; c.fillText('CrH, FeH', px(crhFeh.labelAt), py(crhFeh.labelLevel));
    // K I
    kLines.forEach(k => {
      c.lineWidth = 1.8; c.beginPath();
      c.moveTo(px(k.a), py(k.top)); c.lineTo(px(k.a), py(k.bottom)); c.lineTo(px(k.b), py(k.bottom)); c.lineTo(px(k.b), py(k.top)); c.stroke();
      c.font = 'bold 21px ' + SERIF; c.textAlign = 'center';
      c.fillText('K I', (px(k.a) + px(k.b))/2, py(k.labelLevel));
    });

    // legend text
    const legendColors = ['#ff0000', '#c000c0', '#bdbd00', '#008000', '#00c0c0'];
    c.font = '33px ' + SERIF; c.textAlign = 'left';
    const lsx = 254 / c.measureText(legendLabels[0]).width;
    legendLabels.forEach((t, i) => {
      c.save(); c.translate(133, 65 + i*30); c.scale(lsx, 1); c.fillStyle = legendColors[i];
      c.fillText(t, 0, 0); c.restore();
    });

    // overlay box with bold message
    c.save();
    c.beginPath(); c.rect(0, 178, 1048, 329); c.clip();
    c.fillStyle = '#fff'; c.fillRect(0, 178, 1048, 329);
    c.fillStyle = '#000';
    const ZW = '\u200C';
    const fitLine = (prefix, suffix, left, right, base, gapPx) => {
      c.font = 'bold 122px Lato, "Open Sans", sans-serif';
      const w = c.measureText(suffix).width;
      const sx = (right - left) / w;
      c.save(); c.translate(left, base); c.scale(sx, 1);
      c.textAlign = 'left'; c.fillText(suffix, 0, 0);
      c.textAlign = 'right'; c.fillText(prefix, -gapPx / sx, 0);
      c.restore();
    };
    fitLine('Qualit' + ZW + 'ative ', 'analysis only!', 67, 776, 307, 0);
    fitLine('No quan', 't' + ZW + 'it' + ZW + 'at' + ZW + 'ive calibrat' + ZW + 'ion!', 7, 1014, 460, 10);
    c.restore();

    c.restore();
  }
};

new Chart(document.getElementById('c'), {
  type: 'line',
  data: { datasets },
  options: {
    responsive: false, animation: false, events: [],
    layout: { padding: { left: 99, right: 49, top: 7, bottom: 90 } },
    plugins: { legend: { display: false }, tooltip: { enabled: false }, title: { display: false } },
    scales: {
      x: { type: 'linear', min: 0.7, max: 2.5, display: false },
      y: { type: 'linear', min: -0.095, max: 2.6, display: false }
    }
  },
  plugins: [decor]
});
</script>
</body></html>
